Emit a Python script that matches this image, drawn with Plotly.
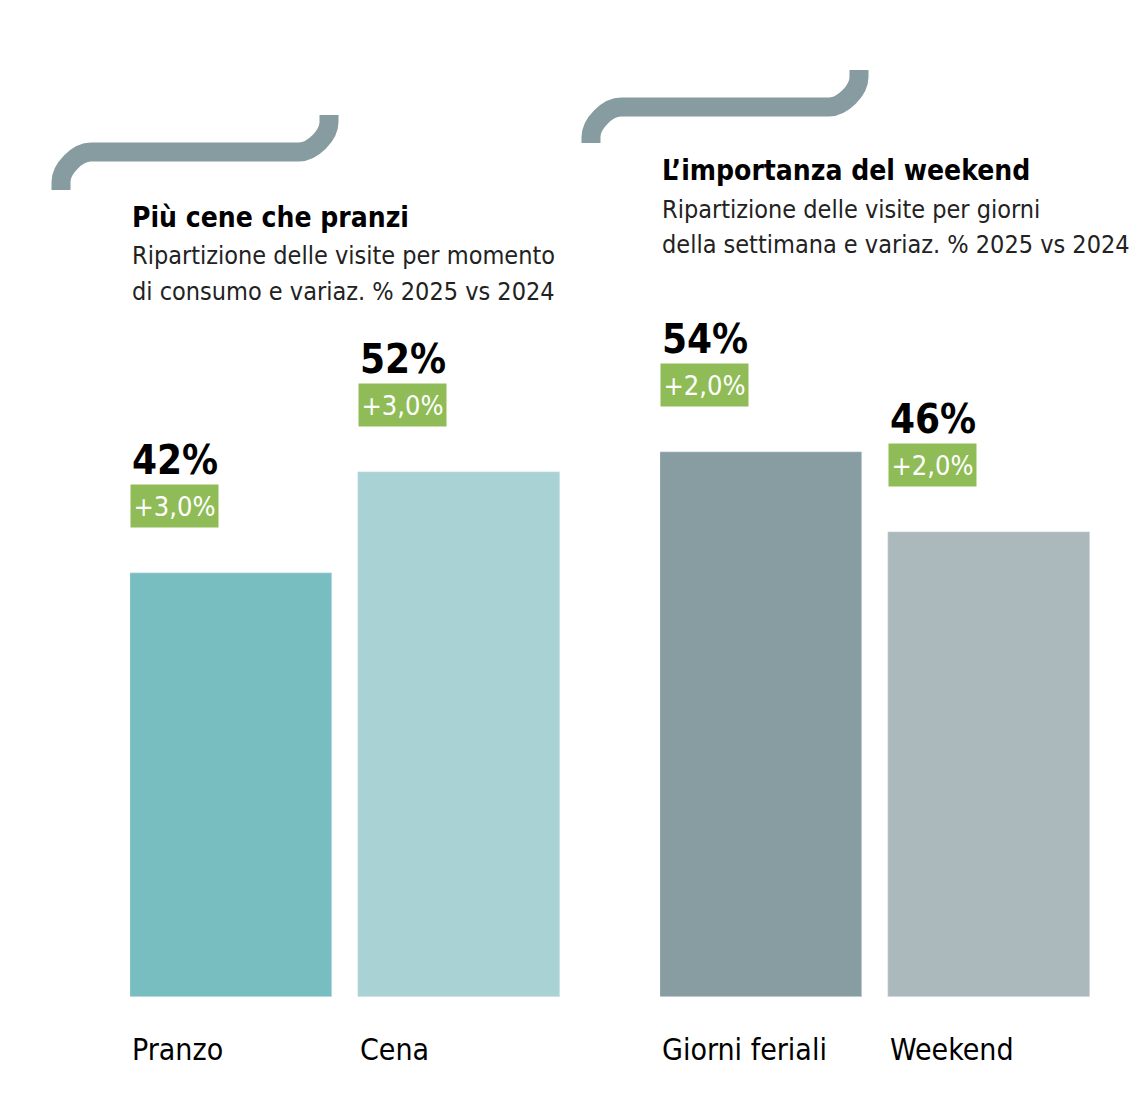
import plotly.graph_objects as go

# dati
momenti = ["Pranzo", "Cena"]
momenti_quote = [42, 52]
momenti_var = ["+3,0%", "+3,0%"]
momenti_colori = ["#78bdc0", "#a9d2d4"]

giorni = ["Giorni feriali", "Weekend"]
giorni_quote = [54, 46]
giorni_var = ["+2,0%", "+2,0%"]
giorni_colori = ["#879da1", "#abb9bc"]

titolo_sx = "Più cene che pranzi"
sottotitolo_sx = ["Ripartizione delle visite per momento", "di consumo e variaz. % 2025 vs 2024"]
titolo_dx = "L’importanza del weekend"
sottotitolo_dx = ["Ripartizione delle visite per giorni", "della settimana e variaz. % 2025 vs 2024"]

# la pagina ha un margine di 8px attorno al grafico
OFF = 8
W, H = 1140 - OFF, 1096 - OFF
FONT = "DejaVu Sans Condensed, DejaVu Sans, sans-serif"
VERDE = "#8fbc57"
GRIGIO = "#879ca0"
BAR_W = 0.886


def px(x):
    return (x - OFF) / W


def py(y):
    return 1 - (y - OFF) / H


fig = go.Figure()
fig.add_trace(go.Bar(x=momenti, y=momenti_quote, marker_color=momenti_colori,
                     width=BAR_W, xaxis="x", yaxis="y", hoverinfo="skip"))
fig.add_trace(go.Bar(x=giorni, y=giorni_quote, marker_color=giorni_colori,
                     width=BAR_W, xaxis="x2", yaxis="y", hoverinfo="skip"))

annotations = []
for xref, cats, vals, vars_ in [("x", momenti, momenti_quote, momenti_var),
                                ("x2", giorni, giorni_quote, giorni_var)]:
    for i, (c, v, d) in enumerate(zip(cats, vals, vars_)):
        left = i - BAR_W / 2
        # variazione in box verde
        annotations.append(dict(xref=xref, yref="y", x=left, y=v, yshift=45,
                                xanchor="left", yanchor="bottom", showarrow=False,
                                text=d, bgcolor=VERDE, borderpad=0,
                                width=87, height=42, align="center",
                                font=dict(family=FONT, size=27, color="white")))
        # quota
        annotations.append(dict(xref=xref, yref="y", x=left, y=v, yshift=88,
                                xanchor="left", yanchor="bottom", showarrow=False,
                                text="<b>%d%%</b>" % v,
                                font=dict(family=FONT, size=40, color="black")))
        # etichetta categoria
        annotations.append(dict(xref=xref, yref="y", x=left, y=0, yshift=-33,
                                xanchor="left", yanchor="top", showarrow=False,
                                text=c, font=dict(family=FONT, size=30, color="black")))

# titoli
for x0, y0, tit, sub in [(130, 217, titolo_sx, sottotitolo_sx), (660, 171, titolo_dx, sottotitolo_dx)]:
    annotations.append(dict(xref="paper", yref="paper", x=px(x0), y=py(y0),
                            xanchor="left", yanchor="middle", showarrow=False,
                            text="<b>" + tit + "</b>",
                            font=dict(family=FONT, size=28, color="black")))
    for k, riga in enumerate(sub):
        annotations.append(dict(xref="paper", yref="paper", x=px(x0), y=py(y0 + 38 + 36 * k),
                                xanchor="left", yanchor="middle", showarrow=False,
                                text=riga, font=dict(family=FONT, size=25, color="#222222")))


# graffe decorative
def graffa(xl, yb, yh, xr, yt):
    r = 30
    k = 0.45 * r
    return ("M %f,%f L %f,%f C %f,%f %f,%f %f,%f L %f,%f C %f,%f %f,%f %f,%f L %f,%f" % (
        px(xl), py(yb), px(xl), py(yh + r),
        px(xl), py(yh + r - k), px(xl + r - k), py(yh), px(xl + r), py(yh),
        px(xr - r), py(yh),
        px(xr - r + k), py(yh), px(xr), py(yh - r + k), px(xr), py(yh - r),
        px(xr), py(yt)))


shapes = [
    dict(type="path", xref="paper", yref="paper", path=graffa(61, 190, 152, 329, 115),
         line=dict(color=GRIGIO, width=19)),
    dict(type="path", xref="paper", yref="paper", path=graffa(591, 143, 107, 859, 70),
         line=dict(color=GRIGIO, width=19)),
]

fig.update_layout(
    width=W, height=H,
    margin=dict(l=0, r=0, t=0, b=0),
    paper_bgcolor="white", plot_bgcolor="white",
    showlegend=False, bargap=0,
    xaxis=dict(domain=[px(130), px(560)], range=[-0.443, 1.443], visible=False),
    xaxis2=dict(domain=[px(660), px(1090)], range=[-0.443, 1.443], visible=False),
    yaxis=dict(domain=[py(997), 1], range=[0, (997 - OFF) / 10.1], visible=False),
    annotations=annotations,
    shapes=shapes,
)

fig.write_html("out.html")
